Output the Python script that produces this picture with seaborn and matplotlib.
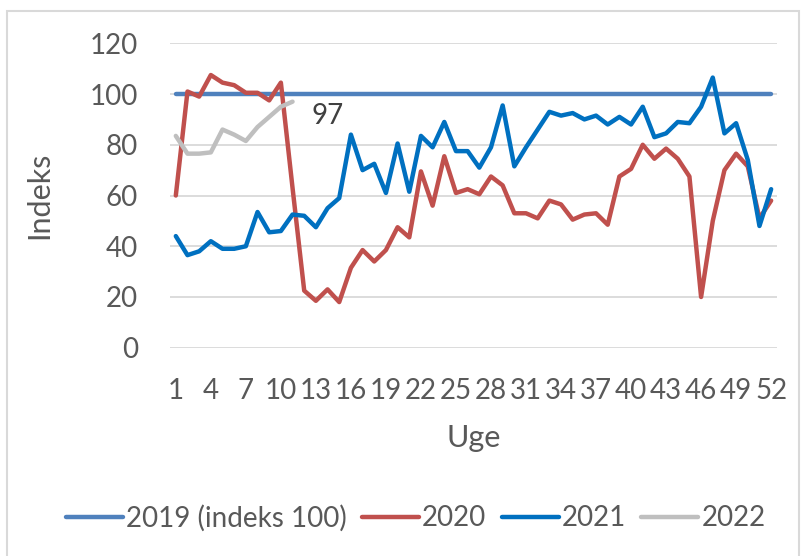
import numpy as np
import pandas as pd
import matplotlib.pyplot as plt
import matplotlib.patches as patches
import seaborn as sns

uge = list(range(1, 53))

y2019 = [100] * 52

y2020 = [60, 101, 99, 107.5, 104.5, 103.5, 100.5, 100.5, 97.5, 104.5,
         63, 22.5, 18.5, 23, 18, 31.5, 38.5, 34, 38.5, 47.5,
         43.5, 69.5, 56, 75.5, 61, 62.5, 60.5, 67.5, 64, 53,
         53, 51, 58, 56.5, 50.5, 52.5, 53, 48.5, 67.5, 70.5,
         80, 74.5, 78.5, 74.5, 67.5, 20, 50, 70, 76.5, 71.5,
         51, 58]

y2021 = [44, 36.5, 38, 42, 39, 39, 40, 53.5, 45.5, 46,
         52.5, 52, 47.5, 55, 59, 84, 70, 72.5, 61, 80.5,
         61.5, 83.5, 79, 89, 77.5, 77.5, 71, 79, 95.5, 71.5,
         79, 86, 93, 91.5, 92.5, 90, 91.5, 88, 91, 88,
         95, 83, 84.5, 89, 88.5, 95, 106.5, 84.5, 88.5, 74,
         48, 62.5]

y2022 = [83.5, 76.5, 76.5, 77, 86, 84, 81.5, 87, 91, 95, 97]

serier = ['2019 (indeks 100)', '2020', '2021', '2022']
farver = ['#4F81BD', '#C0504D', '#0070C0', '#BFBFBF']

frames = []
for navn, vals in zip(serier, [y2019, y2020, y2021, y2022]):
    frames.append(pd.DataFrame({'Uge': uge[:len(vals)], 'Indeks': vals, 'serie': navn}))
dados = pd.concat(frames, ignore_index=True)

sns.set_style('white')
plt.rcParams['font.family'] = ['Lato', 'DejaVu Sans']
tekst = '#595959'

fig = plt.figure(figsize=(8.01, 5.56), dpi=100)
ax = fig.add_axes([0.2122, 0.3746, 0.7578, 0.5475])

sns.lineplot(data=dados, x='Uge', y='Indeks', hue='serie', hue_order=serier,
             palette=farver, linewidth=3.2, ax=ax, sort=False,
             solid_capstyle='round', solid_joinstyle='round')

# dataetiket for sidste 2022-punkt
ax.annotate('97', xy=(len(y2022), y2022[-1]), xytext=(14, -10),
            textcoords='offset points', fontsize=20, color='#404040',
            va='center', ha='left')

ax.set_xlim(0.5, 52.5)
ax.set_ylim(0, 120)
ax.set_yticks(range(0, 121, 20))
ax.set_xticks(np.arange(1, 53, 3))
ax.grid(axis='y', color='#D9D9D9', linewidth=1.3)
ax.set_axisbelow(True)
ax.tick_params(axis='both', length=0, labelsize=20, labelcolor=tekst)
ax.tick_params(axis='x', pad=22)
ax.tick_params(axis='y', pad=23)
sns.despine(ax=ax, left=True, bottom=True)

ax.set_xlabel('')
ax.set_ylabel('')
fig.text(0.591, 0.212, 'Uge', fontsize=22, color=tekst, ha='center', va='center')
fig.text(0.0487, 0.649, 'Indeks', fontsize=22, color=tekst, ha='center', va='center',
         rotation=90)

handles, labels = ax.get_legend_handles_labels()
for h in handles:
    h.set_solid_capstyle('round')
ax.legend(handles, labels, loc='center', bbox_to_anchor=(0.519, 0.0683),
          bbox_transform=fig.transFigure, ncol=4, frameon=False,
          fontsize=20, labelcolor=tekst, handlelength=2.05, handletextpad=0.12,
          columnspacing=0.55, borderaxespad=0)

fig.patches.append(patches.Rectangle((0.009, -0.01), 0.988, 0.99, transform=fig.transFigure,
                                     fill=False, edgecolor='#D9D9D9', linewidth=1.5))

fig.savefig('out.png', dpi=100)
